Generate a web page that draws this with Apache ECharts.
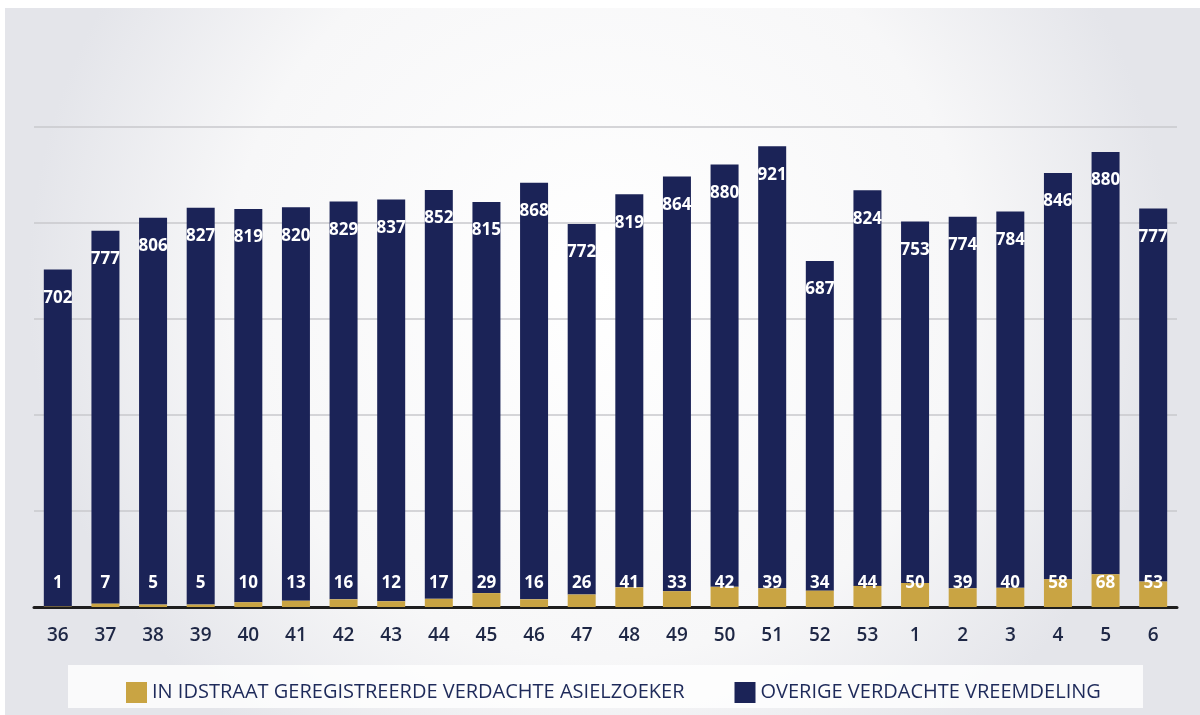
<!DOCTYPE html>
<html>
<head>
<meta charset="utf-8">
<script src="https://cdn.jsdelivr.net/npm/echarts@6/dist/echarts.min.js"></script>
<style>
html,body{margin:0;padding:0;background:#ffffff;}
#c{width:1200px;height:715px;}
</style>
</head>
<body>
<div id="c"></div>
<script>
const weeks = ['36','37','38','39','40','41','42','43','44','45','46','47','48','49','50','51','52','53','1','2','3','4','5','6'];
const asielzoeker = [1,7,5,5,10,13,16,12,17,29,16,26,41,33,42,39,34,44,50,39,40,58,68,53];
const overige = [702,777,806,827,819,820,829,837,852,815,868,772,819,864,880,921,687,824,753,774,784,846,880,777];
const seriesNames = ['IN IDSTRAAT GEREGISTREERDE VERDACHTE ASIELZOEKER','OVERIGE VERDACHTE VREEMDELING'];

const NAVY = '#1b2357';
const GOLD = '#c9a443';
const chart = echarts.init(document.getElementById('c'));
const labelFont = {color:'#ffffff', fontFamily:'Open Sans', fontWeight:'bold', fontSize:17};

chart.setOption({
  backgroundColor: {
    type:'radial', x:0.5, y:0.4, r:0.8,
    colorStops:[{offset:0,color:'#ffffff'},{offset:0.65,color:'#f7f7f8'},{offset:1,color:'#e4e5ea'}]
  },
  animation:false,
  graphic:[
    {type:'rect', left:0, top:0, shape:{width:1200,height:8}, style:{fill:'#ffffff'}, z:-1},
    {type:'rect', left:0, top:0, shape:{width:5,height:715}, style:{fill:'#ffffff'}, z:-1},
    {type:'rect', left:68, top:665, shape:{width:1075,height:43}, style:{fill:'rgba(255,255,255,0.8)'}, z:-1}
  ],
  grid:{left:34, right:23, top:127, bottom:108},
  legend:{
    left:121, top:677, itemWidth:21, itemHeight:21, itemGap:50,
    icon:'rect',
    textStyle:{color:'#1e2a5a', fontFamily:'Open Sans', fontSize:20},
    data:seriesNames
  },
  xAxis:{
    type:'category', data:weeks,
    axisLine:{lineStyle:{color:'#1e1e1e', width:3}},
    axisTick:{show:false},
    axisLabel:{color:'#1e2745', fontFamily:'Open Sans', fontSize:19, fontWeight:600, margin:19}
  },
  yAxis:{
    type:'value', min:0, max:1000, interval:200,
    axisLabel:{show:false}, axisLine:{show:false}, axisTick:{show:false},
    splitLine:{lineStyle:{color:'#c9c9cc', width:1.5}}
  },
  series:[
    {
      name:seriesNames[0], type:'bar', stack:'t', data:asielzoeker, barWidth:28,
      itemStyle:{color:GOLD},
      label:{show:true, position:'insideBottom', distance:15, ...labelFont},
      z:3
    },
    {
      name:seriesNames[1], type:'bar', stack:'t', data:overige, barWidth:28,
      itemStyle:{color:NAVY},
      label:{show:true, position:'insideTop', distance:20, ...labelFont},
      z:2
    }
  ]
});
</script>
</body>
</html>
